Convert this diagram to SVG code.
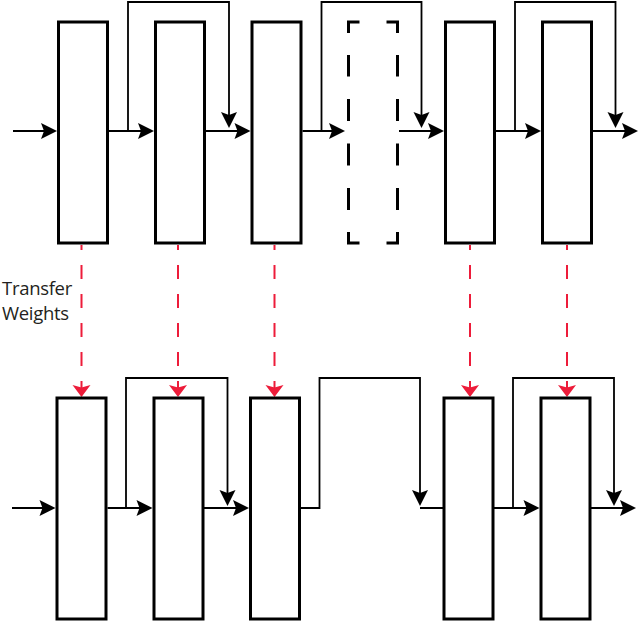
<svg xmlns="http://www.w3.org/2000/svg" width="640" height="623" viewBox="0 0 640 623">
<defs>
<style>
.box{fill:#fff;stroke:#000;stroke-width:3}
.dbox{fill:none;stroke:#000;stroke-width:3}
.flow{fill:none;stroke:#000;stroke-width:2;marker-end:url(#ah)}
.skip{fill:none;stroke:#000;stroke-width:1.8}
.plain{fill:none;stroke:#000;stroke-width:2}
.xfer{fill:none;stroke:#ed1c3a;stroke-width:2;stroke-dasharray:14 15;stroke-dashoffset:9;marker-end:url(#rh)}
.lbl{font-family:"Open Sans","Liberation Sans",sans-serif;font-size:18.5px;letter-spacing:-0.3px;fill:#231f20}
</style>
<marker id="ah" viewBox="-17 -9 18 18" refX="-5" refY="0" markerWidth="18" markerHeight="18" markerUnits="userSpaceOnUse" orient="auto">
<path d="M0,0 L-16,-8 L-13,0 L-16,8 Z" fill="#000"/>
</marker>
<marker id="rh" viewBox="-13 -10 14 20" refX="-7" refY="0" markerWidth="14" markerHeight="20" markerUnits="userSpaceOnUse" orient="auto">
<path d="M0,0 L-12,-9 L-9.5,0 L-12,9 Z" fill="#ed1c3a"/>
</marker>
</defs>

<g id="connectors">
<!-- top row main flow -->
<path class="flow" d="M13,131 H52"/>
<path class="flow" d="M109,131 H149"/>
<path class="flow" d="M206,131 H245.5"/>
<path class="flow" d="M302.5,131 H340"/>
<path class="flow" d="M399,131 H439"/>
<path class="flow" d="M496,131 H536"/>
<path class="flow" d="M593,131 H633"/>
<!-- top row skips -->
<path class="skip" d="M128,131 V2 H229 V123" marker-end="url(#ah)"/>
<path class="skip" d="M321.5,131 V2 H421.5 V123" marker-end="url(#ah)"/>
<path class="skip" d="M515,131 V2 H615.5 V123" marker-end="url(#ah)"/>
<!-- transfer weights -->
<path class="xfer" d="M81.5,245 V390"/>
<path class="xfer" d="M178,245 V390"/>
<path class="xfer" d="M274.5,245 V390"/>
<path class="xfer" d="M470,245 V390"/>
<path class="xfer" d="M567,245 V390"/>
<!-- bottom row main flow -->
<path class="flow" d="M12,508 H50.5"/>
<path class="flow" d="M107.5,508 H147.5"/>
<path class="flow" d="M204,508 H244"/>
<path class="flow" d="M493.5,508 H534.5"/>
<path class="flow" d="M590.5,508 H631"/>
<!-- bottom row skips -->
<path class="skip" d="M126,508 V378 H227.5 V501" marker-end="url(#ah)"/>
<path class="skip" d="M300,508 H319.5 V378 H420 V501" marker-end="url(#ah)"/>
<path class="plain" d="M420,508 H444"/>
<path class="skip" d="M513,508 V378 H614 V501" marker-end="url(#ah)"/>
</g>

<g id="top-layer-1"><rect class="box" x="58.5" y="22" width="49" height="221"/></g>
<g id="top-layer-2"><rect class="box" x="155.5" y="22" width="49" height="221"/></g>
<g id="top-layer-3"><rect class="box" x="252" y="22" width="49" height="221"/></g>
<g id="top-layer-4-dashed">
<path class="dbox" d="M348.5,33 V22 H359.5 M386.5,22 H397.5 V33 M348.5,232 V243 H359.5 M386.5,243 H397.5 V232"/>
<path class="dbox" d="M348.5,55 V76.5 M348.5,99 V121 M348.5,143.5 V165.5 M348.5,188 V210 M397.5,55 V76.5 M397.5,99 V121 M397.5,143.5 V165.5 M397.5,188 V210"/>
</g>
<g id="top-layer-5"><rect class="box" x="445.5" y="22" width="49" height="221"/></g>
<g id="top-layer-6"><rect class="box" x="542.5" y="22" width="49" height="221"/></g>

<g id="bottom-layer-1"><rect class="box" x="57" y="398" width="49" height="221"/></g>
<g id="bottom-layer-2"><rect class="box" x="154" y="398" width="49" height="221"/></g>
<g id="bottom-layer-3"><rect class="box" x="250.5" y="398" width="49" height="221"/></g>
<g id="bottom-layer-5"><rect class="box" x="444" y="398" width="49" height="221"/></g>
<g id="bottom-layer-6"><rect class="box" x="541" y="398" width="49" height="221"/></g>

<g id="label">
<text class="lbl" x="2" y="295">Transfer</text>
<text class="lbl" x="2" y="320">Weights</text>
</g>
</svg>
